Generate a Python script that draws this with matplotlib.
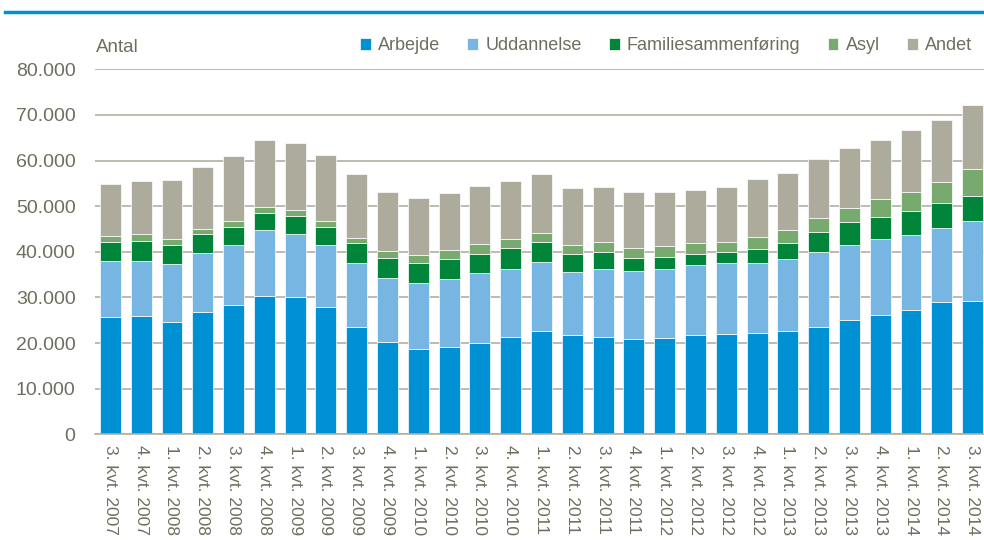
import matplotlib
matplotlib.use("Agg")
import matplotlib.pyplot as plt
from matplotlib.lines import Line2D
from matplotlib.ticker import FuncFormatter

plt.rcParams['font.family'] = ['Liberation Sans', 'DejaVu Sans']

quarters = ["3. kvt. 2007", "4. kvt. 2007",
            "1. kvt. 2008", "2. kvt. 2008", "3. kvt. 2008", "4. kvt. 2008",
            "1. kvt. 2009", "2. kvt. 2009", "3. kvt. 2009", "4. kvt. 2009",
            "1. kvt. 2010", "2. kvt. 2010", "3. kvt. 2010", "4. kvt. 2010",
            "1. kvt. 2011", "2. kvt. 2011", "3. kvt. 2011", "4. kvt. 2011",
            "1. kvt. 2012", "2. kvt. 2012", "3. kvt. 2012", "4. kvt. 2012",
            "1. kvt. 2013", "2. kvt. 2013", "3. kvt. 2013", "4. kvt. 2013",
            "1. kvt. 2014", "2. kvt. 2014", "3. kvt. 2014"]

# cumulative tops (thousands), converted to segments below
top_arbejde = [25.8, 26.0, 24.7, 26.7, 28.3, 30.4, 30.1, 28.0, 23.6, 20.2,
               18.8, 19.2, 20.1, 21.4, 22.6, 21.7, 21.3, 20.9, 21.0, 21.8,
               21.9, 22.1, 22.6, 23.6, 25.0, 26.2, 27.3, 28.9, 29.2]
top_uddannelse = [38.0, 38.0, 37.3, 39.7, 41.6, 44.7, 43.8, 41.4, 37.6, 34.3,
                  33.1, 34.1, 35.3, 36.2, 37.8, 35.5, 36.2, 35.9, 36.2, 37.1,
                  37.5, 37.6, 38.4, 40.0, 41.4, 42.7, 43.7, 45.3, 46.7]
top_familie = [42.2, 42.4, 41.6, 43.8, 45.5, 48.4, 47.9, 45.5, 42.0, 38.7,
               37.5, 38.5, 39.6, 40.8, 42.1, 39.6, 40.0, 38.7, 38.9, 39.6,
               40.0, 40.7, 42.0, 44.4, 46.5, 47.7, 49.0, 50.6, 52.3]
top_asyl = [43.4, 43.8, 42.9, 45.1, 46.8, 49.8, 49.2, 46.8, 43.1, 40.2,
            39.2, 40.5, 41.8, 42.9, 44.2, 41.5, 42.2, 40.9, 41.3, 42.0,
            42.1, 43.3, 44.8, 47.5, 49.7, 51.6, 53.2, 55.2, 58.2]
top_andet = [54.9, 55.5, 55.8, 58.6, 60.9, 64.6, 63.8, 61.3, 57.0, 53.0,
             51.7, 52.9, 54.4, 55.6, 57.0, 53.9, 54.1, 53.0, 53.0, 53.5,
             54.3, 56.0, 57.2, 60.4, 62.7, 64.6, 66.7, 68.8, 72.2]

series_names = ["Arbejde", "Uddannelse", "Familiesammenføring", "Asyl", "Andet"]
colors = ["#0090d4", "#77b5e3", "#00853a", "#78aa70", "#adab9c"]

tops = [top_arbejde, top_uddannelse, top_familie, top_asyl, top_andet]
text_col = "#6e6e60"

fig = plt.figure(figsize=(9.84, 5.40), dpi=100)
ax = fig.add_axes([95 / 984, (540 - 434.3) / 540, 893 / 984, 365 / 540])

x = list(range(len(quarters)))
prev = [0.0] * len(quarters)
for name, col, top in zip(series_names, colors, tops):
    heights = [(t - p) * 1000 for t, p in zip(top, prev)]
    bottoms = [p * 1000 for p in prev]
    ax.bar(x, heights, bottom=bottoms, width=0.68, color=col,
           edgecolor="white", linewidth=0.5, label=name, zorder=3)
    prev = top

ax.set_xlim(-0.5, len(quarters) - 0.5)
ax.set_ylim(0, 80000)
ax.set_yticks(range(0, 80001, 10000))
ax.yaxis.set_major_formatter(FuncFormatter(lambda v, p: f"{int(v):,}".replace(",", ".")))
ax.grid(axis="y", color="#b0b0a6", linewidth=1.2, zorder=0)
for s in ["top", "right", "left"]:
    ax.spines[s].set_visible(False)
ax.spines["bottom"].set_color("#b0b0a6")
ax.spines["bottom"].set_linewidth(1.2)
ax.spines["bottom"].set_zorder(4)
ax.tick_params(axis="both", length=0, colors=text_col)
ax.tick_params(axis="y", pad=14, labelsize=14)
ax.set_xticks(x)
ax.set_xticklabels(quarters, rotation=-90, ha="center", va="top")
ax.tick_params(axis="x", pad=8, labelsize=12.5)

fig.text(96 / 984, 1 - 47 / 540, "Antal", color=text_col, fontsize=13.5, va="center")

fig.legend(loc="center right", bbox_to_anchor=(972 / 984, 1 - 46 / 540), ncol=5,
           frameon=False, fontsize=13, labelcolor=text_col, handlelength=0.6,
           handleheight=0.6, handletextpad=0.4, columnspacing=1.5,
           borderaxespad=0, borderpad=0)

fig.add_artist(Line2D([5 / 984, 1.0], [1 - 12 / 540, 1 - 12 / 540],
                      color="#0090d4", linewidth=2.5, transform=fig.transFigure))

fig.savefig("out.png", dpi=100)
